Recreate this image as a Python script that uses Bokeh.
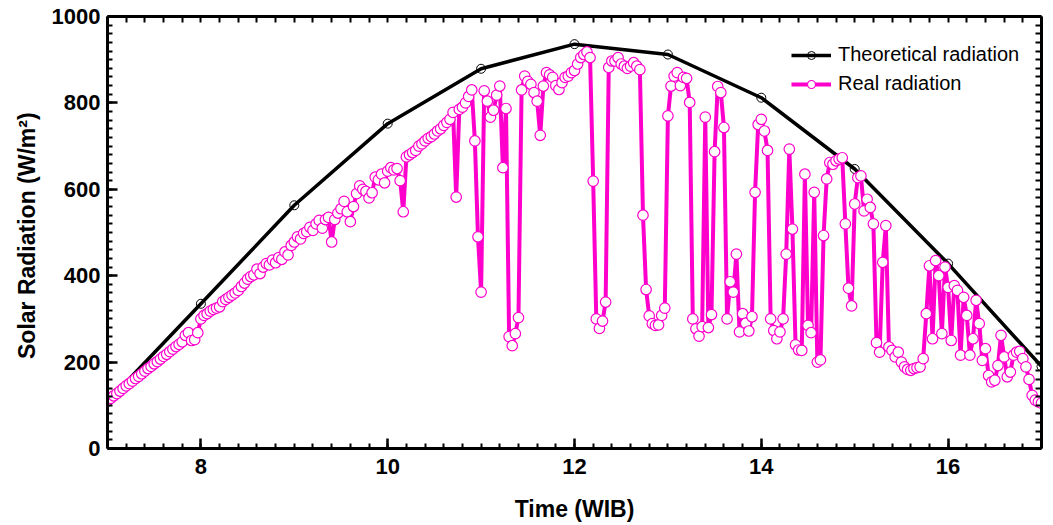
from bokeh.plotting import figure
from bokeh.models import (LinearAxis, SingleIntervalTicker, FixedTicker, Range1d, Legend, LegendItem)
from bokeh.embed import file_html
from bokeh.resources import INLINE

# ---------------- data ----------------
theo_hours = [7, 8, 9, 10, 11, 12, 13, 14, 15, 16, 17]
theo_values = [108, 335, 563, 752, 879, 936, 912, 812, 647, 428, 190]

real_start_hour = 7
real_step_minutes = 2
real_h07 = [110, 116, 122, 127, 133, 139, 145, 150, 156, 162,
            167, 173, 179, 185, 190, 196, 201, 207, 213, 218,
            224, 230, 236, 241, 247, 262, 268, 250, 252, 268]
real_h08 = [300, 308, 312, 318, 322, 325, 328, 340, 345, 350,
            355, 360, 366, 375, 383, 392, 398, 402, 415, 405,
            420, 428, 425, 436, 430, 442, 438, 455, 448, 470]
real_h09 = [478, 490, 485, 498, 502, 512, 505, 520, 528, 510,
            530, 535, 478, 530, 545, 555, 572, 548, 525, 560,
            590, 608, 600, 595, 580, 592, 628, 622, 635, 615]
real_h10 = [642, 650, 645, 648, 620, 548, 675, 680, 685, 690,
            700, 705, 712, 718, 722, 728, 735, 740, 748, 755,
            762, 778, 582, 785, 790, 800, 815, 830, 712, 490]
real_h11 = [362, 828, 804, 767, 783, 818, 839, 650, 787, 259,
            238, 266, 303, 830, 862, 850, 843, 824, 804, 725,
            839, 870, 865, 859, 840, 831, 847, 859, 862, 870]
real_h12 = [875, 890, 905, 912, 918, 905, 619, 300, 278, 295,
            339, 882, 897, 897, 905, 890, 885, 880, 885, 893,
            885, 877, 540, 368, 307, 289, 285, 286, 308, 325]
real_h13 = [770, 839, 862, 870, 840, 859, 857, 801, 300, 277,
            260, 282, 767, 280, 310, 687, 838, 824, 743, 300,
            386, 362, 450, 270, 312, 290, 272, 305, 593, 750]
real_h14 = [762, 735, 690, 300, 273, 254, 270, 300, 450, 693,
            508, 240, 228, 227, 635, 285, 268, 593, 200, 205,
            493, 624, 662, 658, 666, 670, 673, 520, 371, 330]
real_h15 = [566, 627, 631, 550, 577, 558, 520, 245, 223, 431,
            516, 235, 227, 212, 223, 200, 189, 183, 181, 185,
            187, 189, 208, 312, 423, 254, 435, 400, 266, 420]
real_h16 = [373, 250, 377, 366, 216, 350, 308, 216, 254, 343,
            289, 204, 231, 169, 154, 158, 192, 262, 212, 166,
            177, 216, 223, 225, 208, 189, 160, 123, 112, 108]
real_h17 = [105]

real_values = (real_h07 + real_h08 + real_h09 + real_h10 + real_h11 +
               real_h12 + real_h13 + real_h14 + real_h15 + real_h16 + real_h17)
real_time = [real_start_hour + k * real_step_minutes / 60.0 for k in range(len(real_values))]

x_start, x_end, x_major, x_minor_step = 7, 17, 2, 0.2
y_start, y_end, y_major, y_minor_step = 0, 1000, 200, 20

# ---------------- styling ----------------
MAGENTA = "#FF00CC"
FONT = "Liberation Sans"

p = figure(width=1045, height=524, output_backend="svg", toolbar_location=None,
           x_range=Range1d(x_start, x_end), y_range=Range1d(y_start, y_end),
           min_border_left=107, min_border_right=4, min_border_top=16, min_border_bottom=74)
p.outline_line_color = None
p.xgrid.visible = False
p.ygrid.visible = False
p.background_fill_color = "white"
p.border_fill_color = "white"


def style_axis(ax, labels=True):
    ax.axis_line_width = 3
    ax.axis_line_color = "black"
    ax.major_tick_in = 10
    ax.major_tick_out = 0
    ax.minor_tick_in = 5
    ax.minor_tick_out = 0
    ax.major_tick_line_width = 2.5
    ax.minor_tick_line_width = 2
    ax.major_tick_line_color = "black"
    ax.minor_tick_line_color = "black"
    if labels:
        ax.major_label_text_font = FONT
        ax.major_label_text_font_style = "bold"
        ax.major_label_text_font_size = "22px"
        ax.major_label_text_color = "black"
        ax.axis_label_text_font = FONT
        ax.axis_label_text_font_style = "bold"
        ax.axis_label_text_font_size = "23px"
        ax.axis_label_text_color = "black"
    else:
        ax.major_label_standoff = 0
        ax.minor_tick_in = 6


xa = p.xaxis[0]
xa.ticker = SingleIntervalTicker(interval=x_major, num_minor_ticks=10)
xa.axis_label = "Time (WIB)"
style_axis(xa)
xa.major_label_standoff = 10
xa.axis_label_standoff = 19

ya = p.yaxis[0]
ya.ticker = SingleIntervalTicker(interval=y_major, num_minor_ticks=10)
ya.axis_label = "Solar Radiation  (W/m\u00b2)"
style_axis(ya)
ya.major_label_standoff = 7
ya.axis_label_standoff = 9

# mirrored tick marks on top and right (ticks only, no labels)
n_x = int(round((x_end - x_start) / x_minor_step))
top_minor = [x_start + k * x_minor_step for k in range(n_x + 1)]
n_y = int(round((y_end - y_start) / y_minor_step))
right_minor = [y_start + k * y_minor_step for k in range(n_y + 1)]

top = LinearAxis(ticker=FixedTicker(ticks=[], minor_ticks=top_minor))
style_axis(top, labels=False)
p.add_layout(top, "above")
right = LinearAxis(ticker=FixedTicker(ticks=[], minor_ticks=right_minor))
style_axis(right, labels=False)
p.add_layout(right, "right")

# theoretical
tl = p.line(theo_hours, theo_values, line_color="black", line_width=3.5)
tc = p.scatter(theo_hours, theo_values, marker="circle", size=9, line_color="black",
               line_width=1, fill_alpha=0)

# real
rl = p.line(real_time, real_values, line_color=MAGENTA, line_width=4)
rc = p.scatter(real_time, real_values, marker="circle", size=10.5, line_color=MAGENTA,
               line_width=1.2, fill_color="white")

legend = Legend(items=[LegendItem(label="Theoretical radiation", renderers=[tl, tc]),
                       LegendItem(label="Real radiation", renderers=[rl, rc])],
                location=(684, 353))
legend.border_line_color = None
legend.background_fill_alpha = 0
legend.padding = 0
legend.margin = 0
legend.spacing = 6
legend.glyph_width = 40
legend.glyph_height = 20
legend.label_height = 20
legend.label_standoff = 7
legend.label_text_font = FONT
legend.label_text_font_size = "20px"
legend.label_text_color = "black"
p.add_layout(legend, "center")

open("out.html", "w").write(file_html(p, INLINE))
